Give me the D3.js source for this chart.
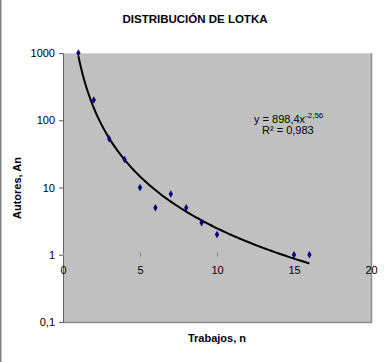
<!DOCTYPE html>
<html>
<head>
<meta charset="utf-8">
<script src="https://cdn.jsdelivr.net/npm/d3@7"></script>
<style>
  body { margin: 0; background: #fff; }
  svg { display: block; font-family: Arial, "Liberation Sans", sans-serif; }
</style>
</head>
<body>
<svg width="388" height="362"></svg>
<script>
// Lotka distribution data
const trabajos = [1, 2, 3, 4, 5, 6, 7, 8, 9, 10, 15, 16];
const autores = [1000, 200, 53, 26, 10, 5, 8, 5, 3, 2, 1, 1];
const xTicks = [0, 5, 10, 15, 20];
const yTicks = [0.1, 1, 10, 100, 1000];
const fitA = 898.4, fitB = -2.56;
const fitX = [1, 16];

const svg = d3.select('svg');
const plot = {left: 63, right: 371, top: 53, bottom: 322};

const x = d3.scaleLinear().domain([0, 20]).range([plot.left, plot.right]);
const y = d3.scaleLog().domain([0.1, 1000]).range([plot.bottom, plot.top]);

// outer frame line on the left
svg.append('line').attr('x1', 0.5).attr('x2', 0.5).attr('y1', 0).attr('y2', 362)
    .attr('stroke', '#808080').attr('stroke-width', 2);

// plot area
svg.append('rect')
    .attr('x', plot.left).attr('y', plot.top)
    .attr('width', plot.right - plot.left).attr('height', plot.bottom - plot.top)
    .attr('fill', '#c0c0c0');
svg.append('line').attr('x1', plot.left).attr('x2', plot.right).attr('y1', plot.top + 0.5).attr('y2', plot.top + 0.5)
    .attr('stroke', '#d4d4d4');
svg.append('line').attr('x1', plot.right + 0.5).attr('x2', plot.right + 0.5).attr('y1', plot.top).attr('y2', plot.bottom)
    .attr('stroke', '#8c8c8c').attr('stroke-width', 1.5);
svg.append('line').attr('x1', plot.left).attr('x2', plot.right + 1).attr('y1', plot.bottom + 0.5).attr('y2', plot.bottom + 0.5)
    .attr('stroke', '#8c8c8c').attr('stroke-width', 1.5);

// y axis
const yAxis = svg.append('g')
    .attr('transform', `translate(${plot.left},0)`)
    .call(d3.axisLeft(y).tickValues(yTicks).tickSize(4).tickPadding(4)
        .tickFormat(d => String(d).replace('.', ',')));
yAxis.select('.domain').attr('stroke', '#606060');
yAxis.selectAll('line').attr('stroke', '#606060');
yAxis.selectAll('text').attr('font-size', 11).attr('fill', '#000');

// x axis crosses at y = 1
const xAxis = svg.append('g')
    .attr('transform', `translate(0,${y(1)})`)
    .call(d3.axisBottom(x).tickValues(xTicks).tickSize(0).tickPadding(11));
xAxis.select('.domain').remove();
xAxis.selectAll('text').attr('font-size', 11).attr('fill', '#000');
xAxis.selectAll('.tick').append('line')
    .attr('y1', -2).attr('y2', 2).attr('stroke', '#808080');

// power trendline
const line = d3.line().x(d => x(d)).y(d => y(fitA * Math.pow(d, fitB)));
const xs = d3.range(fitX[0], fitX[1] + 0.001, 0.1);
svg.append('path')
    .datum(xs)
    .attr('d', line)
    .attr('fill', 'none')
    .attr('stroke', '#000')
    .attr('stroke-width', 2);

// data points (diamonds)
svg.selectAll('.pt')
    .data(trabajos.map((t, i) => [t, autores[i]]))
    .enter().append('path')
    .attr('class', 'pt')
    .attr('transform', d => `translate(${x(d[0])},${y(d[1])})`)
    .attr('d', d3.symbol(d3.symbolDiamond, 16))
    .attr('fill', '#000080');

// equation label
const eq = svg.append('text').attr('x', 254).attr('y', 123).attr('font-size', 11).attr('fill', '#000');
eq.append('tspan').text('y = 898,4x');
eq.append('tspan').attr('dy', -5).attr('font-size', 8).text('-2,56');
svg.append('text').attr('x', 262).attr('y', 134).attr('font-size', 11).attr('fill', '#000')
    .text('R² = 0,983');

// title and axis titles
svg.append('text').attr('x', 195).attr('y', 23).attr('text-anchor', 'middle')
    .attr('font-size', 11.5).attr('font-weight', 'bold').text('DISTRIBUCIÓN DE LOTKA');
svg.append('text').attr('x', 217).attr('y', 342).attr('text-anchor', 'middle')
    .attr('font-size', 11).attr('font-weight', 'bold').text('Trabajos, n');
svg.append('text').attr('transform', 'translate(21,188) rotate(-90)').attr('text-anchor', 'middle')
    .attr('font-size', 11).attr('font-weight', 'bold').text('Autores, An');
</script>
</body>
</html>
